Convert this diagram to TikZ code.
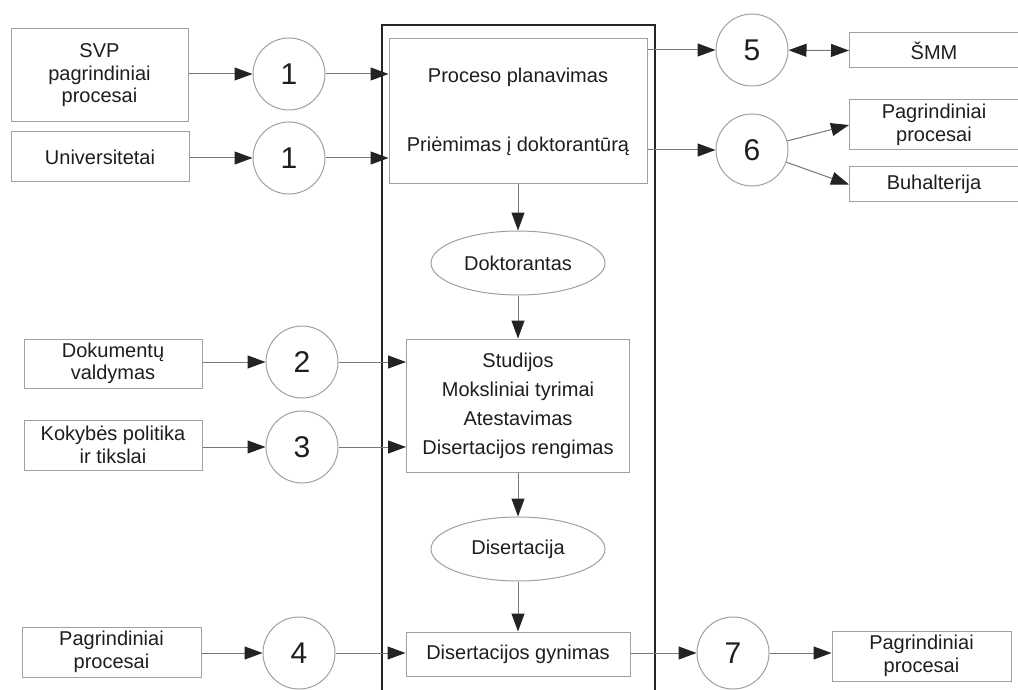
\documentclass[tikz,border=0pt]{standalone}
\usepackage{fontspec}
\setmainfont{Liberation Sans}
\usetikzlibrary{arrows.meta,shapes.geometric}
\definecolor{linegray}{RGB}{120,120,120}
\definecolor{boxgray}{RGB}{160,160,160}
\definecolor{txt}{RGB}{30,30,30}
\definecolor{headc}{RGB}{35,35,35}
\tikzset{
  boxn/.style={draw=boxgray, line width=1pt, rectangle, inner sep=0pt, align=center, text=txt,
    font=\fontsize{20}{22.5}\selectfont},
  numc/.style={draw=boxgray, line width=1pt, circle, minimum size=72pt, inner sep=0pt, text=txt,
    font=\fontsize{30}{30}\selectfont},
  ell/.style={draw=boxgray, line width=1pt, ellipse, minimum width=174pt, minimum height=64pt, inner sep=0pt,
    text=txt, font=\fontsize{20}{22}\selectfont},
  tipx/.tip={Triangle[length=18pt,width=13pt,color=headc]},
  arr/.style={draw=linegray, line width=1pt, -tipx},
  darr/.style={draw=linegray, line width=1pt, tipx-tipx},
}
\begin{document}
\begin{tikzpicture}[x=1pt,y=-1pt]
\useasboundingbox (0,0) rectangle (1018,690);
\fill[white] (0,0) rectangle (1018,690);
% big frame
\draw[line width=2pt, black!85] (382,695) -- (382,25) -- (655,25) -- (655,695);

% central column
\node[boxn, minimum width=258pt, minimum height=145pt, font=\fontsize{20}{69}\selectfont] (top) at (518,111.5)
  {Proceso planavimas\\Priėmimas į doktorantūrą};
\node[ell] (dok) at (518,263) {Doktorantas};
\node[boxn, minimum width=223pt, minimum height=133pt, font=\fontsize{20}{29}\selectfont] (mid) at (518,405.5)
  {Studijos\\Moksliniai tyrimai\\Atestavimas\\Disertacijos rengimas};
\node[ell] (dis) at (518,549) {Disertacija};
\node[boxn, minimum width=224pt, minimum height=44pt] (gyn) at (518,654) {Disertacijos gynimas};

% left inputs
\node[boxn, minimum width=177pt, minimum height=93pt] (svp) at (99.5,75.5) {SVP\\pagrindiniai\\procesai};
\node[boxn, minimum width=178pt, minimum height=50pt] (uni) at (100,157) {Universitetai};
\node[numc] (c1a) at (289,74) {1};
\node[numc] (c1b) at (289,158) {1};

\node[boxn, minimum width=178pt, minimum height=49pt] (dokv) at (113,363.5) {Dokumentų\\valdymas};
\node[boxn, minimum width=178pt, minimum height=50pt] (kok) at (113,445) {Kokybės politika\\ir tikslai};
\node[numc] (c2) at (302,362) {2};
\node[numc] (c3) at (302,447) {3};

\node[boxn, minimum width=179pt, minimum height=50pt] (pp4) at (111.5,652) {Pagrindiniai\\procesai};
\node[numc] (c4) at (299,653) {4};

% right outputs
\node[numc] (c5) at (752,50) {5};
\node[numc] (c6) at (752,150) {6};
\node[boxn, minimum width=169pt, minimum height=35pt, anchor=west] (smm) at (849,50.5) {ŠMM};
\node[boxn, minimum width=169pt, minimum height=50pt, anchor=west] (pp6) at (849,125) {Pagrindiniai\\procesai};
\node[boxn, minimum width=169pt, minimum height=35pt, anchor=west] (buh) at (849,184.5) {Buhalterija};

\node[numc] (c7) at (733,653) {7};
\node[boxn, minimum width=179pt, minimum height=50pt] (pp7) at (921.5,656) {Pagrindiniai\\procesai};

% connectors: left
\draw[arr] (svp.east |- c1a) -- (c1a);
\draw[arr] (c1a) -- (c1a -| top.west);
\draw[arr] (uni.east |- c1b) -- (c1b);
\draw[arr] (c1b) -- (c1b -| top.west);
\draw[arr] (dokv.east |- c2) -- (c2);
\draw[arr] (c2) -- (c2 -| mid.west);
\draw[arr] (kok.east |- c3) -- (c3);
\draw[arr] (c3) -- (c3 -| mid.west);
\draw[arr] (pp4.east |- c4) -- (c4);
\draw[arr] (c4) -- (c4 -| gyn.west);

% connectors: central
\draw[arr] (top.south -| dok) -- (dok.north);
\draw[arr] (dok.south) -- (mid.north -| dok);
\draw[arr] (mid.south -| dis) -- (dis.north);
\draw[arr] (dis.south) -- (gyn.north -| dis);

% connectors: right
\draw[arr] (top.east |- c5) -- (c5);
\draw[darr] (c5) -- (smm.west);
\draw[arr] (top.east |- c6) -- (c6);
\draw[arr] (c6) -- (pp6.west);
\draw[arr] (c6) -- (buh.west);
\draw[arr] (gyn.east |- c7) -- (c7);
\draw[arr] (c7) -- (c7 -| pp7.west);
\end{tikzpicture}
\end{document}
